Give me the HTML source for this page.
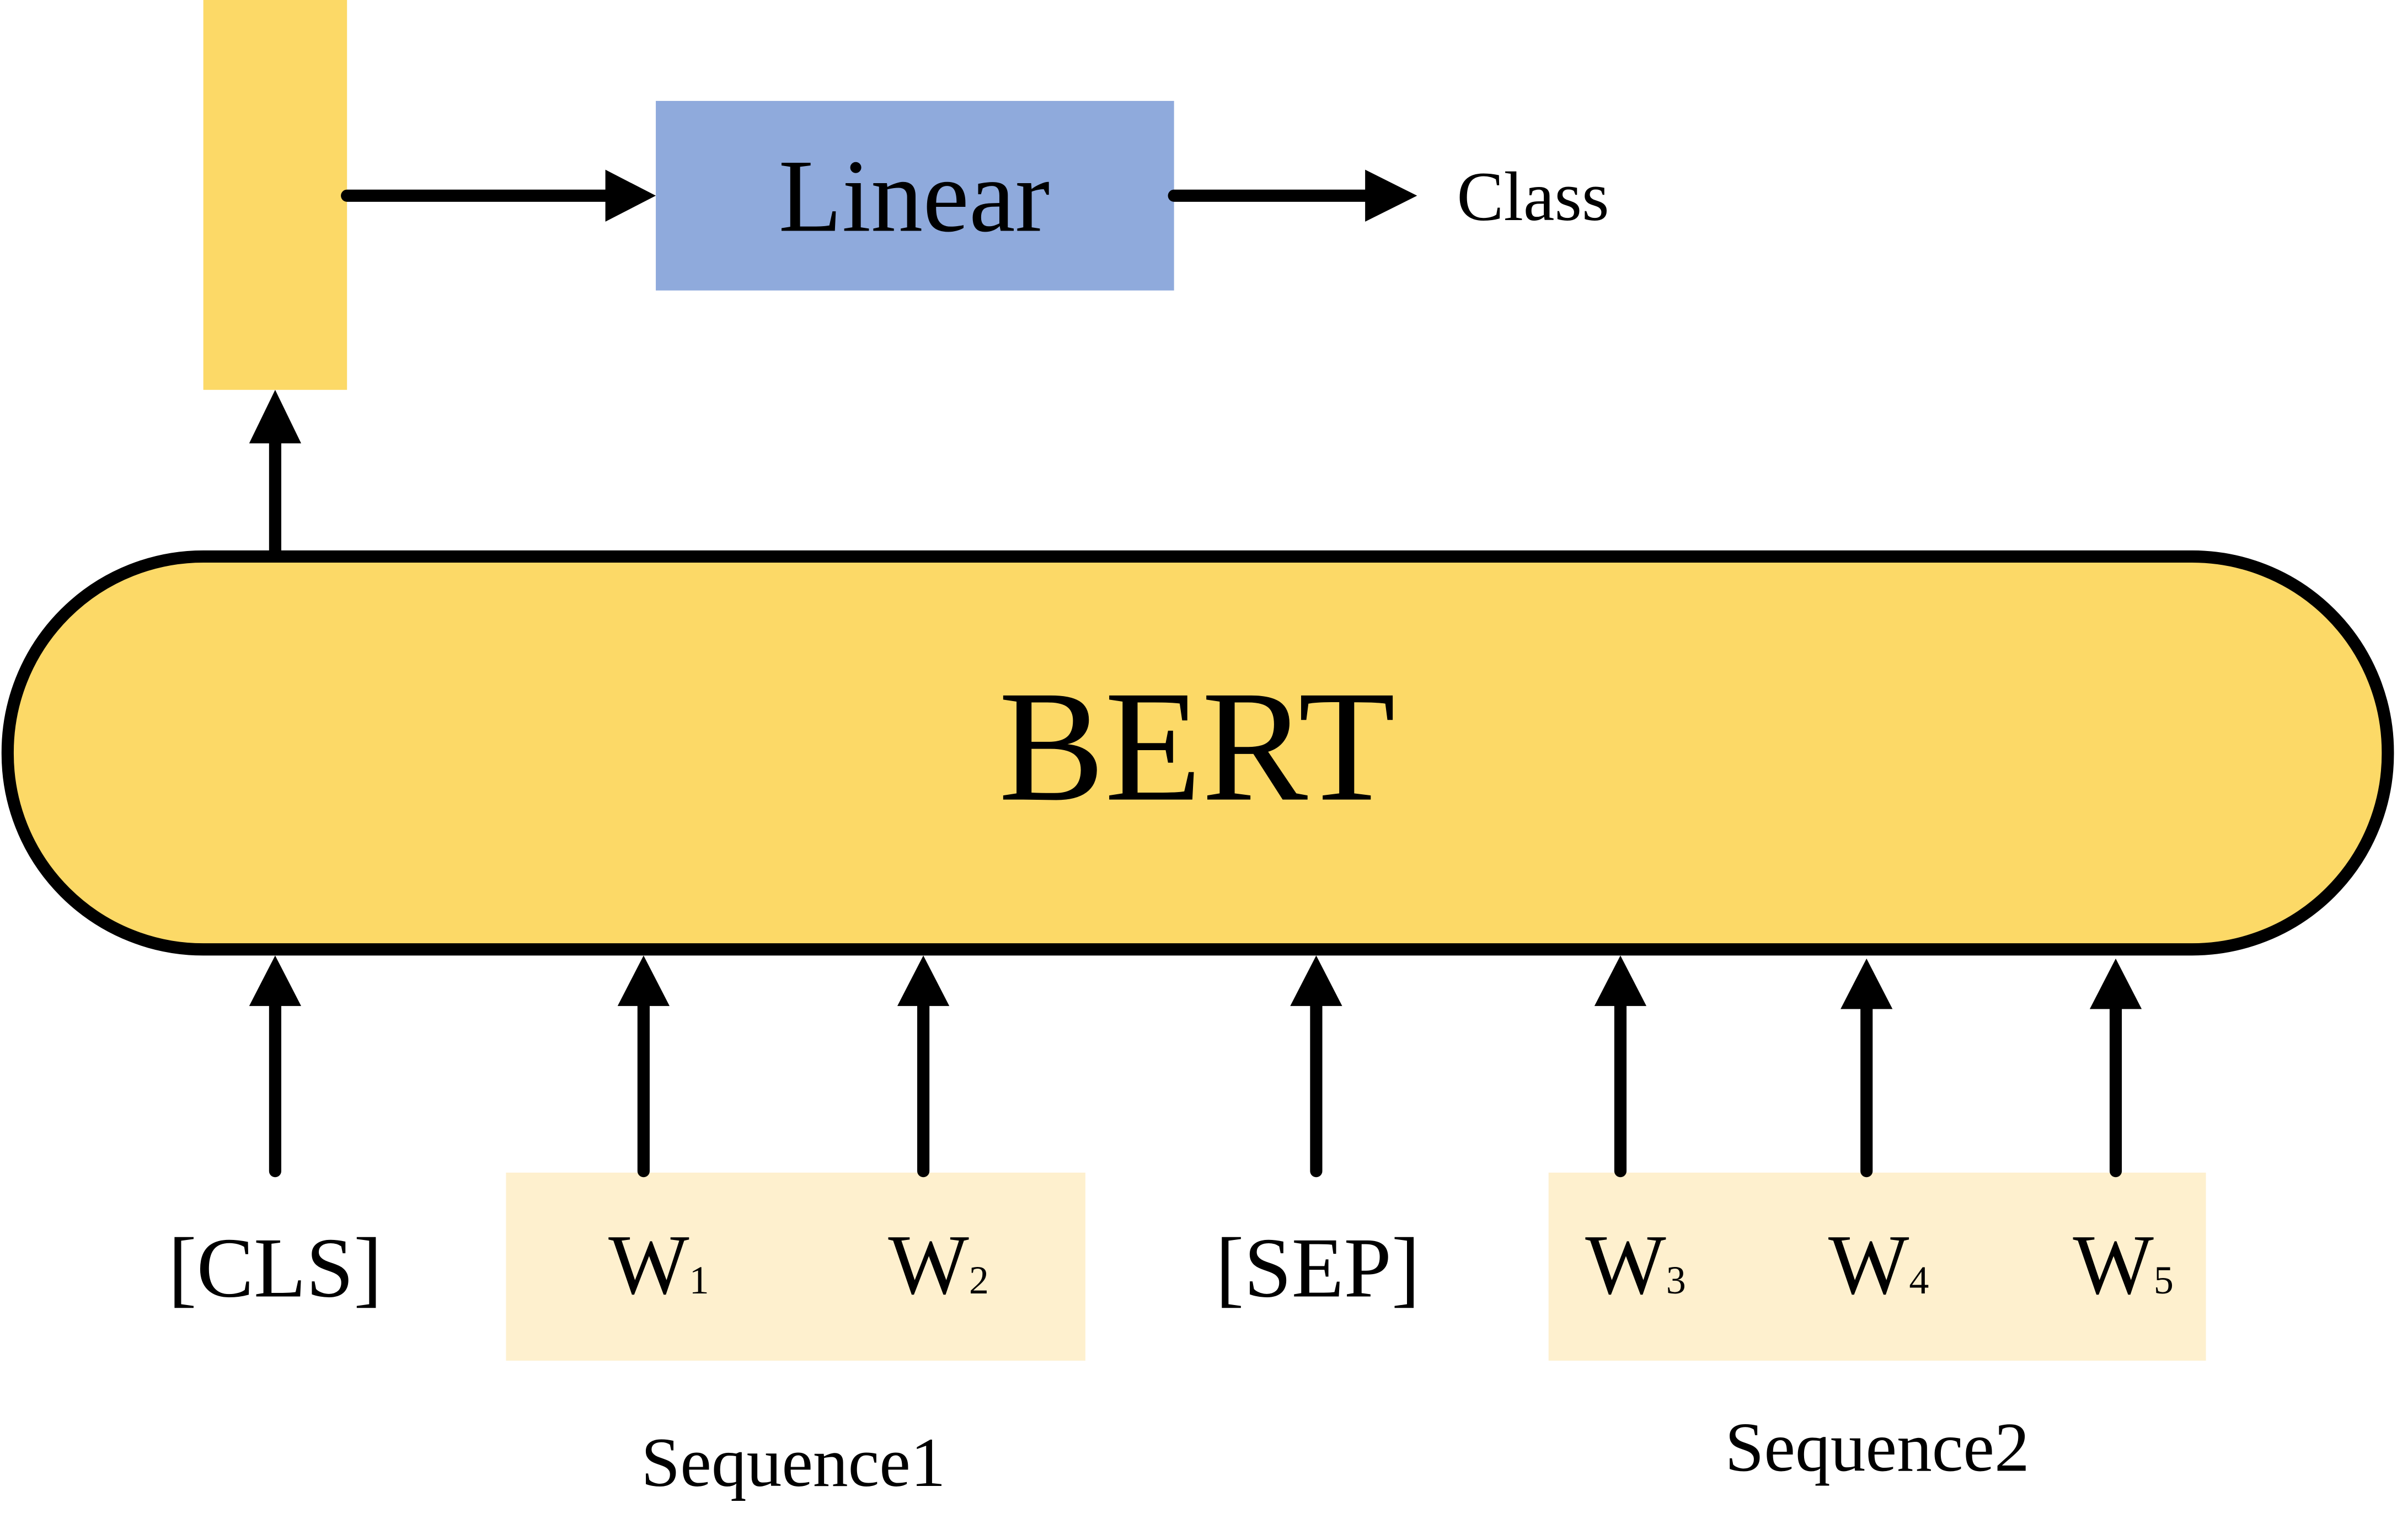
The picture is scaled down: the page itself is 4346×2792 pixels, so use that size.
<!DOCTYPE html>
<html><head><meta charset="utf-8"><style>
html,body{margin:0;padding:0;background:#fff;}
svg{display:block;}
text{font-family:"Liberation Serif",serif;fill:#000;}
</style></head><body>
<svg width="4346" height="2792" viewBox="0 0 1568 1007.3" preserveAspectRatio="none" xmlns="http://www.w3.org/2000/svg">
<rect x="133" y="0" width="94" height="255" fill="#FCD967"/>
<rect x="429" y="66" width="339" height="124" fill="#8FAADC"/>
<text x="598" y="151" font-size="68" text-anchor="middle">Linear</text>
<line x1="227" y1="128" x2="400" y2="128" stroke="#000" stroke-width="8" stroke-linecap="round"/>
<polygon points="396,111 429,128 396,145" fill="#000"/>
<line x1="768" y1="128" x2="896" y2="128" stroke="#000" stroke-width="8" stroke-linecap="round"/>
<polygon points="893,111 927,128 893,145" fill="#000"/>
<text x="953" y="144" font-size="46">Class</text>
<line x1="180" y1="363" x2="180" y2="287" stroke="#000" stroke-width="8"/>
<polygon points="163,290 180,255 197,290" fill="#000"/>
<rect x="5" y="364" width="1557" height="257" rx="128" ry="128" fill="#FCD967" stroke="#000" stroke-width="8"/>
<text x="783" y="523" font-size="104" text-anchor="middle">BERT</text>
<rect x="331" y="767" width="379" height="123" fill="#FEF0CE"/>
<rect x="1013" y="767" width="430" height="123" fill="#FEF0CE"/>
<g stroke="#000" stroke-width="8" stroke-linecap="round">
<line x1="180" y1="766" x2="180" y2="655"/>
<line x1="421" y1="766" x2="421" y2="655"/>
<line x1="604" y1="766" x2="604" y2="655"/>
<line x1="861" y1="766" x2="861" y2="655"/>
<line x1="1060" y1="766" x2="1060" y2="655"/>
<line x1="1221" y1="766" x2="1221" y2="657"/>
<line x1="1384" y1="766" x2="1384" y2="657"/>
</g>
<g fill="#000">
<polygon points="163,658 180,625 197,658"/>
<polygon points="404,658 421,625 438,658"/>
<polygon points="587,658 604,625 621,658"/>
<polygon points="844,658 861,625 878,658"/>
<polygon points="1043,658 1060,625 1077,658"/>
<polygon points="1204,660 1221,627 1238,660"/>
<polygon points="1367,660 1384,627 1401,660"/>
</g>
<g font-size="56">
<text x="180" y="848" text-anchor="middle">[CLS]</text>
<text x="862" y="848" text-anchor="middle">[SEP]</text>
<text x="398" y="846">W<tspan font-size="26">1</tspan></text>
<text x="581" y="846">W<tspan font-size="26">2</tspan></text>
<text x="1037" y="846">W<tspan font-size="26">3</tspan></text>
<text x="1196" y="846">W<tspan font-size="26">4</tspan></text>
<text x="1356" y="846">W<tspan font-size="26">5</tspan></text>
</g>
<text x="519" y="972" font-size="46" text-anchor="middle">Sequence1</text>
<text x="1228" y="962" font-size="46" text-anchor="middle">Sequence2</text>
</svg>
</body></html>
